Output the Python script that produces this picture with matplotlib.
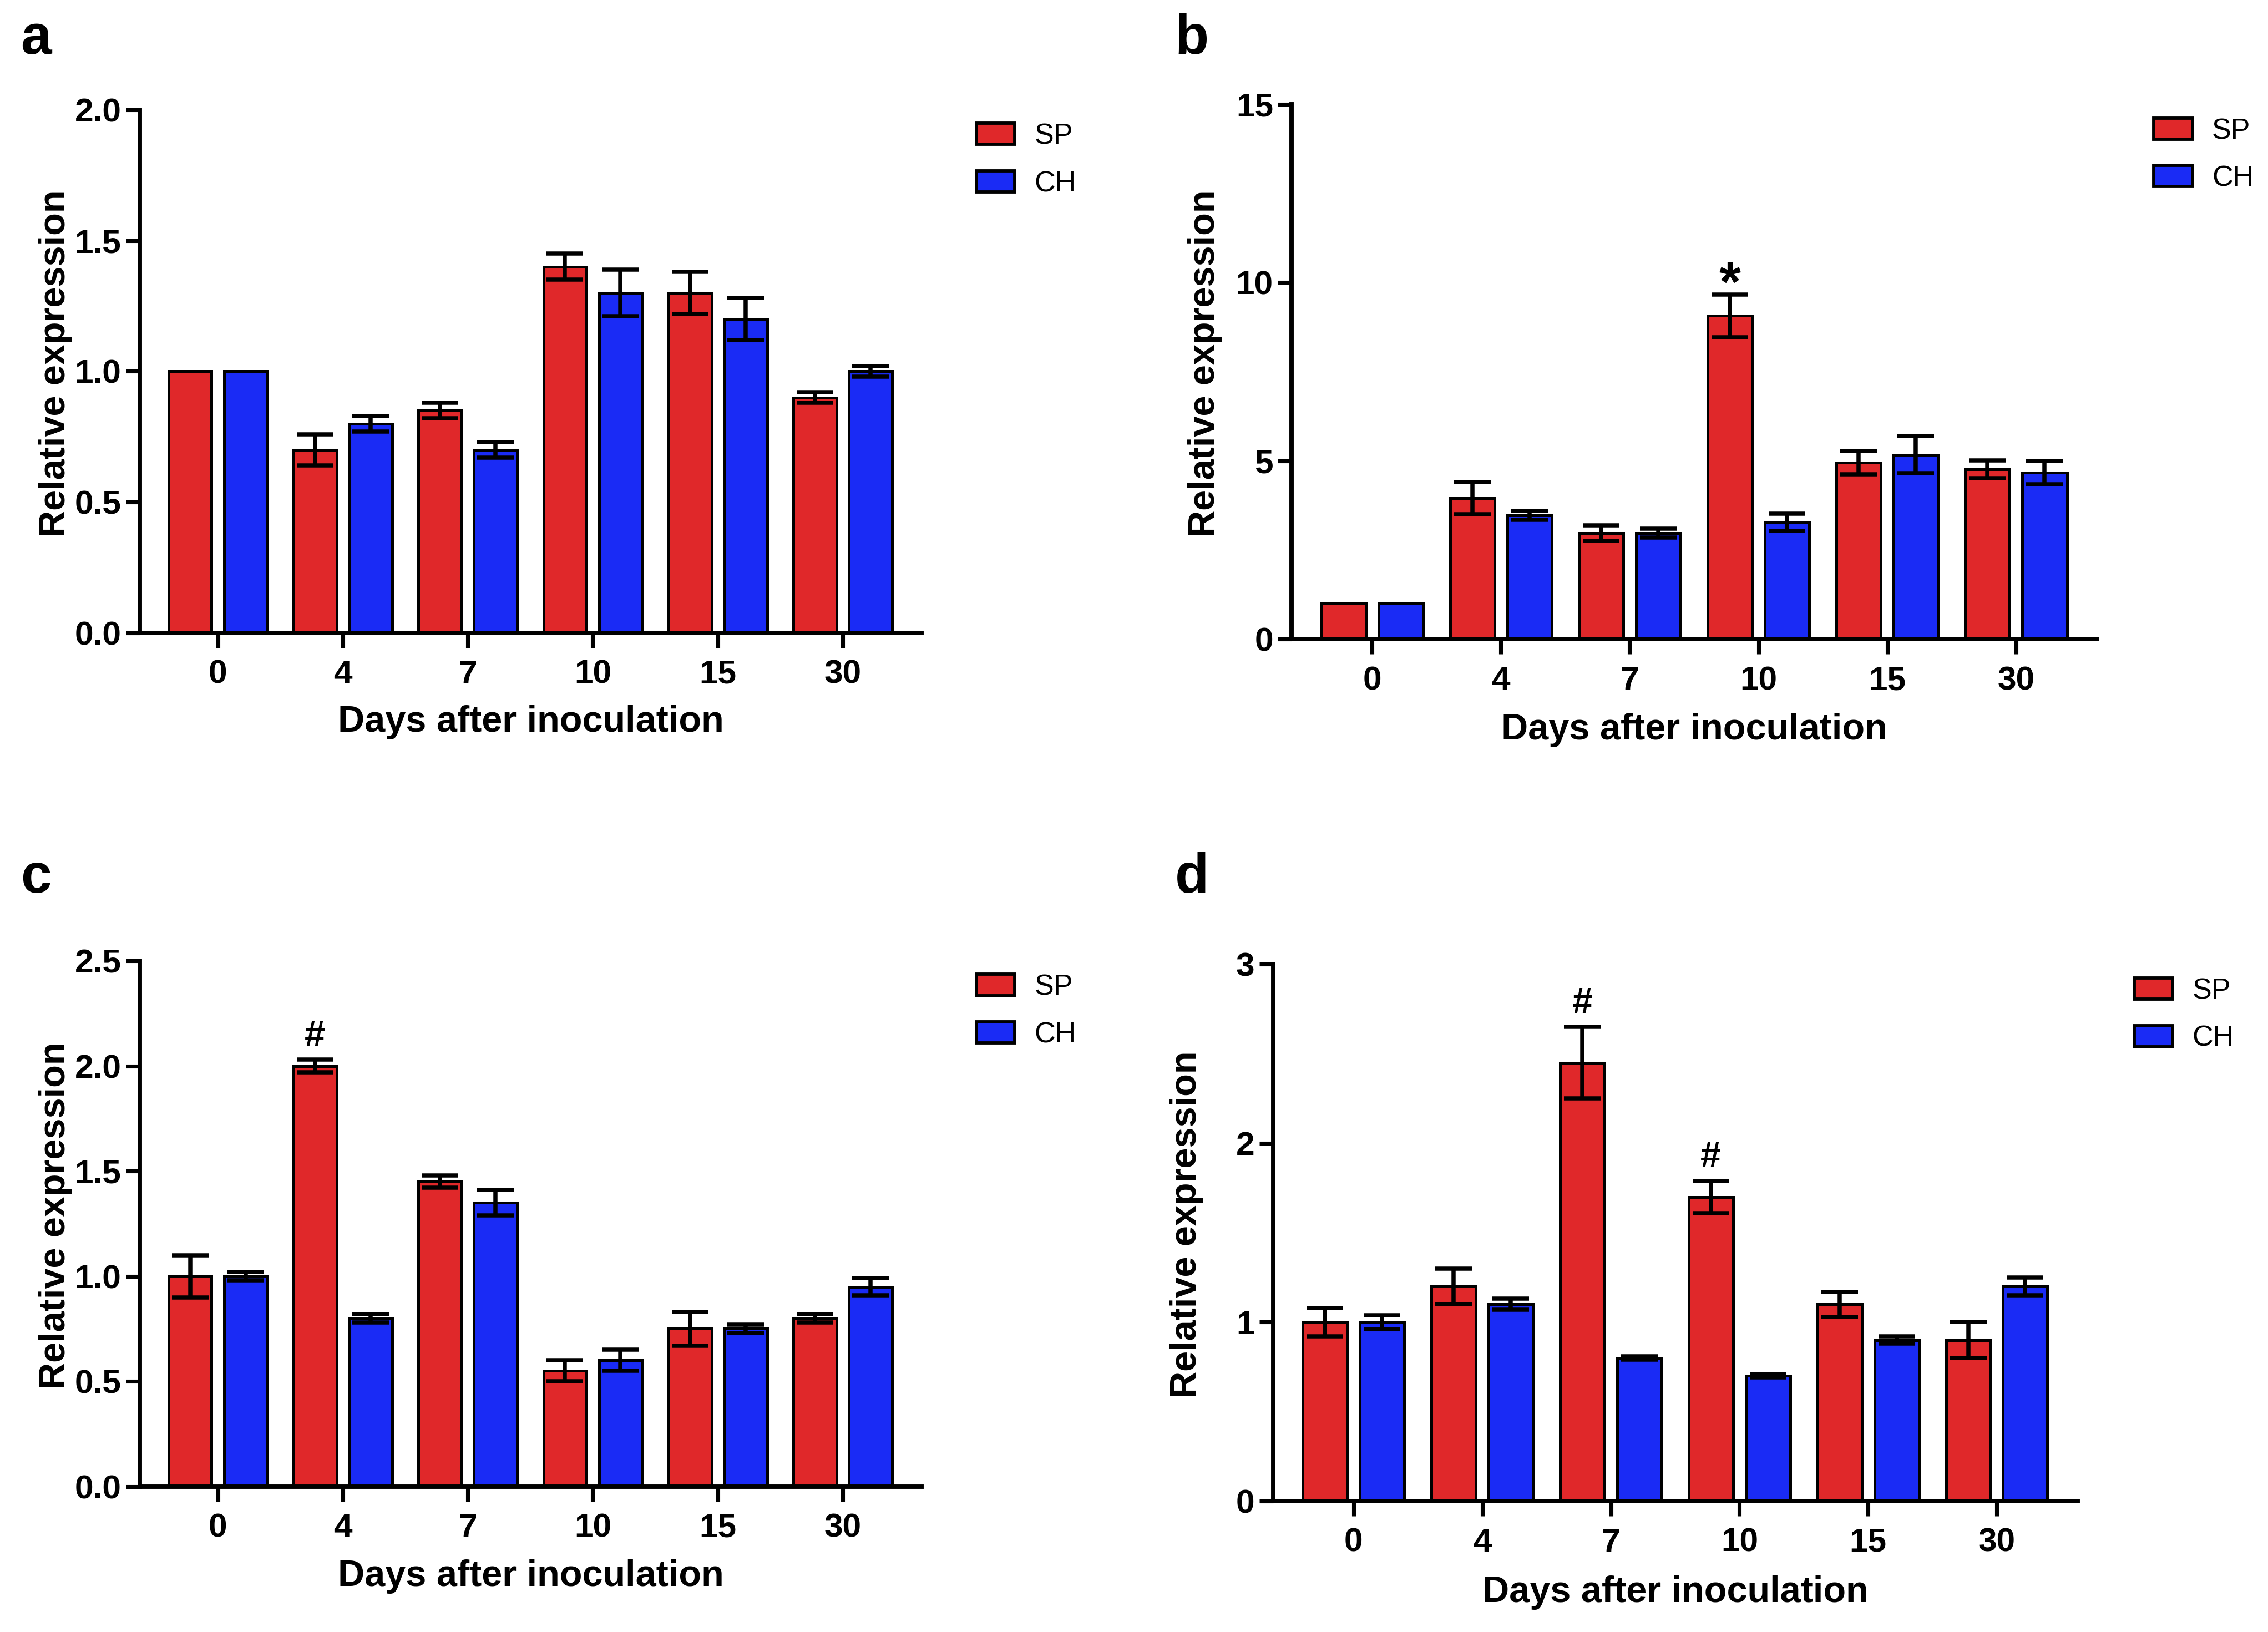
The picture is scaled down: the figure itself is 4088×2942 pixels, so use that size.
"""
Relative expression of SP / CH over days after inoculation (panels a-d).
"""

import numpy as np
import matplotlib
matplotlib.use("Agg")
import matplotlib.pyplot as plt
from matplotlib import font_manager
from matplotlib.patches import Patch


# ---------------------------------------------------------
# Data
# ---------------------------------------------------------

days = ["0", "4", "7", "10", "15", "30"]
series_names = ["SP", "CH"]

a_sp = [1.00, 0.70, 0.85, 1.40, 1.30, 0.90]
a_sp_err = [0.00, 0.06, 0.03, 0.05, 0.08, 0.02]
a_ch = [1.00, 0.80, 0.70, 1.30, 1.20, 1.00]
a_ch_err = [0.00, 0.03, 0.03, 0.09, 0.08, 0.02]

b_sp = [1.00, 3.95, 2.97, 9.07, 4.95, 4.76]
b_sp_err = [0.00, 0.45, 0.22, 0.60, 0.32, 0.25]
b_ch = [1.00, 3.47, 2.97, 3.27, 5.17, 4.67]
b_ch_err = [0.00, 0.12, 0.12, 0.24, 0.52, 0.33]

c_sp = [1.00, 2.00, 1.45, 0.55, 0.75, 0.80]
c_sp_err = [0.10, 0.03, 0.03, 0.05, 0.08, 0.02]
c_ch = [1.00, 0.80, 1.35, 0.60, 0.75, 0.95]
c_ch_err = [0.02, 0.02, 0.06, 0.05, 0.02, 0.04]

d_sp = [1.00, 1.20, 2.45, 1.70, 1.10, 0.90]
d_sp_err = [0.08, 0.10, 0.20, 0.09, 0.07, 0.10]
d_ch = [1.00, 1.10, 0.80, 0.70, 0.90, 1.20]
d_ch_err = [0.04, 0.03, 0.01, 0.01, 0.02, 0.05]

# significance marks on SP bars: {group index: symbol}
b_marks = {3: "*"}
c_marks = {1: "#"}
d_marks = {2: "#", 3: "#"}

a_ticks = [0.0, 0.5, 1.0, 1.5, 2.0]
b_ticks = [0, 5, 10, 15]
c_ticks = [0.0, 0.5, 1.0, 1.5, 2.0, 2.5]
d_ticks = [0, 1, 2, 3]


# ---------------------------------------------------------
# Style
# ---------------------------------------------------------

RED = "#E0282A"
BLUE = "#1A2BF5"

available = {f.name for f in font_manager.fontManager.ttflist}
NARROW = "Liberation Sans Narrow" if "Liberation Sans Narrow" in available else "Liberation Sans"
WIDE = "Liberation Sans"

plt.rcParams["font.family"] = [WIDE, "DejaVu Sans"]
plt.rcParams["axes.linewidth"] = 1.9

fig = plt.figure(figsize=(4088 / 300, 2942 / 300), dpi=300)

# mark style: font size and baseline offset (fraction of y range)
MARK_STYLE = {"*": (24, -0.012), "#": (16, 0.025)}


def draw_panel(rect, sp, sp_err, ch, ch_err, ticks, fmt, marks):

    ax = fig.add_axes(rect)

    x = np.arange(len(days))
    w = 0.345
    off = 0.222

    ax.bar(x - off, sp, width=w, color=RED, edgecolor="black",
           linewidth=1.2, zorder=2)
    ax.bar(x + off, ch, width=w, color=BLUE, edgecolor="black",
           linewidth=1.2, zorder=2)

    for xs, vals, errs in [(x - off, sp, sp_err), (x + off, ch, ch_err)]:
        for xi, v, e in zip(xs, vals, errs):
            if e > 0:
                ax.errorbar(xi, v, yerr=e, fmt="none", ecolor="black",
                            elinewidth=1.8, capsize=8, capthick=1.8,
                            zorder=3)

    ymax = ticks[-1]
    for i, sym in marks.items():
        size, shift = MARK_STYLE[sym]
        ax.text(x[i] - off, sp[i] + sp_err[i] + shift * ymax, sym,
                ha="center", va="baseline", fontsize=size,
                fontweight="bold", family=NARROW)

    ax.set_xlim(-0.625, len(days) - 1 + 0.63)
    ax.set_ylim(0, ymax)
    ax.set_yticks(ticks)
    ax.set_yticklabels([fmt.format(t) for t in ticks])
    ax.set_xticks(x)
    ax.set_xticklabels(days)

    for s in ["top", "right"]:
        ax.spines[s].set_visible(False)

    ax.tick_params(axis="x", length=6.5, width=1.7, pad=5)
    ax.tick_params(axis="y", length=6, width=1.7, pad=2)
    for lab in ax.get_xticklabels() + ax.get_yticklabels():
        lab.set_family(NARROW)
        lab.set_fontweight("bold")
        lab.set_fontsize(14.5)

    ax.set_ylabel("Relative expression", fontsize=16, fontweight="bold",
                  family=WIDE)
    ax.yaxis.set_label_coords(-0.086, 0.515)
    ax.set_xlabel("Days after inoculation", fontsize=16, fontweight="bold",
                  family=NARROW)
    ax.xaxis.set_label_coords(0.5, -0.138)

    handles = [
        Patch(facecolor=RED, edgecolor="black", linewidth=1.4),
        Patch(facecolor=BLUE, edgecolor="black", linewidth=1.4),
    ]
    ax.legend(handles, series_names, loc="upper left",
              bbox_to_anchor=(1.07, 0.975), frameon=False, fontsize=12.5,
              handlelength=1.34, handleheight=0.75, handletextpad=0.68,
              labelspacing=0.7, borderpad=0, borderaxespad=0)

    return ax


draw_panel([0.0616, 0.6122, 0.3447, 0.3205],
           a_sp, a_sp_err, a_ch, a_ch_err, a_ticks, "{:.1f}", {})
draw_panel([0.5695, 0.6084, 0.3552, 0.3277],
           b_sp, b_sp_err, b_ch, b_ch_err, b_ticks, "{:d}", b_marks)
draw_panel([0.0616, 0.0891, 0.3447, 0.3222],
           c_sp, c_sp_err, c_ch, c_ch_err, c_ticks, "{:.1f}", c_marks)
draw_panel([0.5614, 0.0802, 0.3547, 0.3290],
           d_sp, d_sp_err, d_ch, d_ch_err, d_ticks, "{:d}", d_marks)

# panel letters
for letter, lx, ly in [("a", 0.009, 0.967), ("b", 0.518, 0.967),
                       ("c", 0.009, 0.453), ("d", 0.518, 0.453)]:
    fig.text(lx, ly, letter, fontsize=24, fontweight="bold",
             ha="left", va="baseline")

fig.savefig("out.png", dpi=300)
